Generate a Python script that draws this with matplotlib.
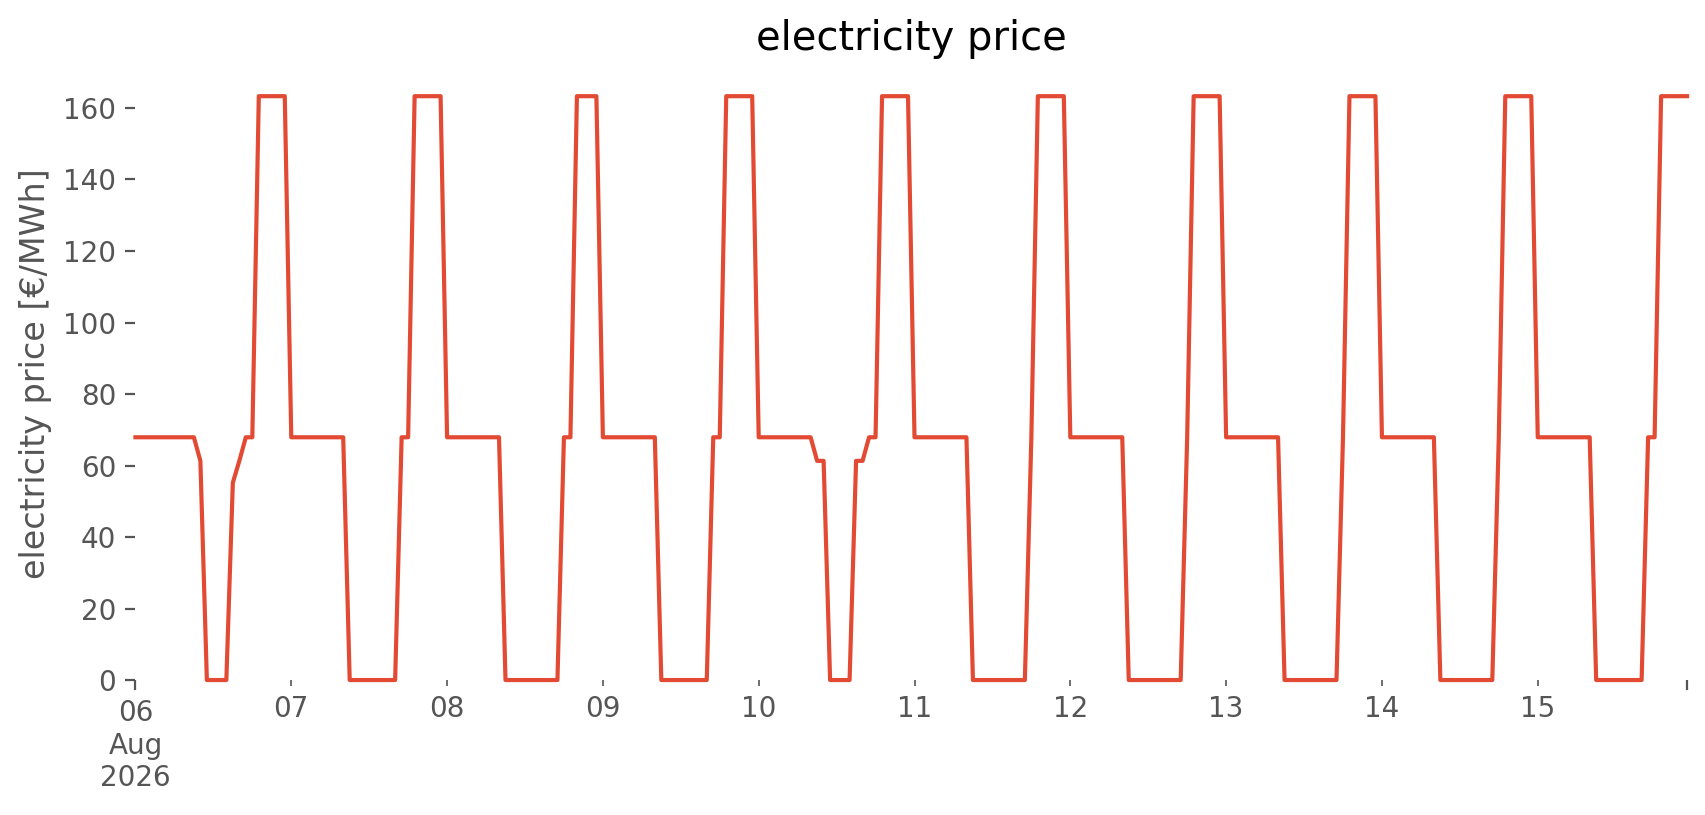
import matplotlib
matplotlib.use("Agg")
import matplotlib.pyplot as plt
import pandas as pd

plt.style.use("ggplot")

# price levels [EUR/MWh]
HI = 163.3
MID = 67.9
LOW = 61.3
DIP = 55.2
ZERO = 0.0

# hourly profiles, one list per day (06 Aug .. 15 Aug 2026)
day_06 = [MID] * 10 + [LOW] + [ZERO] * 4 + [DIP, LOW] + [MID] * 2 + [HI] * 5
day_07 = [MID] * 9 + [ZERO] * 8 + [MID] * 2 + [HI] * 5
day_08 = [MID] * 9 + [ZERO] * 9 + [MID] * 2 + [HI] * 4
day_09 = [MID] * 9 + [ZERO] * 8 + [MID] * 2 + [HI] * 5
day_10 = [MID] * 9 + [LOW] * 2 + [ZERO] * 4 + [LOW] * 2 + [MID] * 2 + [HI] * 5
day_11 = [MID] * 9 + [ZERO] * 9 + [MID] + [HI] * 5
day_12 = [MID] * 9 + [ZERO] * 9 + [MID] + [HI] * 5
day_13 = [MID] * 9 + [ZERO] * 9 + [MID] + [HI] * 5
day_14 = [MID] * 9 + [ZERO] * 9 + [MID] + [HI] * 5
day_15 = [MID] * 9 + [ZERO] * 8 + [MID] * 2 + [HI] * 5

days = [day_06, day_07, day_08, day_09, day_10,
        day_11, day_12, day_13, day_14, day_15]
prices = [v for d in days for v in d]
index = pd.date_range("2026-08-06 00:00", periods=len(prices), freq="h")
price = pd.Series(prices, index=index, name="electricity price")

fig = plt.figure(figsize=(8.53, 4.075), dpi=200)
ax = fig.add_axes([0.0794, 0.1656, 0.9095, 0.7522])
price.plot(ax=ax, color="#E24A33", lw=1.5)
for line in ax.get_lines():
    line.set_clip_on(False)  # keep the zero stretches full width

ax.set_facecolor("white")
ax.grid(False)
for s in ax.spines.values():
    s.set_visible(False)
ax.set_ylim(bottom=0)
ax.set_xlabel("")
ax.set_ylabel("electricity price [€/MWh]")
ax.set_title("electricity price")

fig.savefig("out.png", dpi=200)
